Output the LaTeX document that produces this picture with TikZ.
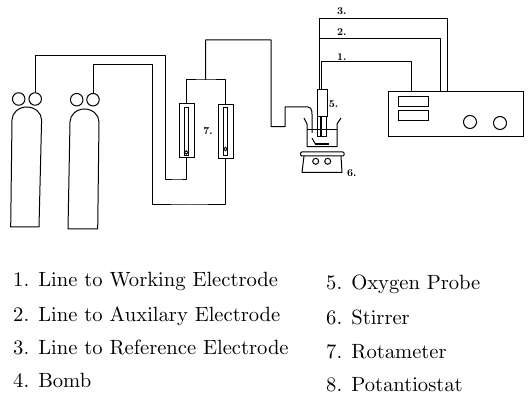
\documentclass[tikz,border=0pt]{standalone}
\usetikzlibrary{positioning}
\font\legendfont=cmr10 at 20.6pt
\font\tagfont=cmbx10 at 10.5pt
\tikzset{
    pipe/.style={line width=1pt,line join=round},
    valve/.style={circle,draw,line width=1pt,minimum size=12.5pt,inner sep=0pt},
    rotabox/.style={rectangle,draw,line width=1pt,minimum width=15pt,minimum height=54pt,inner sep=0pt},
    rotatube/.style={rectangle,draw,line width=0.8pt,minimum width=4.5pt,minimum height=48pt,inner sep=0pt},
    bead/.style={circle,draw,line width=0.8pt,minimum size=3.5pt,inner sep=0pt},
    dial/.style={rectangle,draw,line width=1pt,minimum width=30pt,minimum height=10pt,inner sep=0pt},
    knob/.style={circle,draw,line width=1pt,minimum size=13pt,inner sep=0pt},
    tag/.style={font=\tagfont,inner sep=0pt},
    entry/.style={anchor=base west,font=\legendfont,inner sep=0pt},
}
\begin{document}
\begin{tikzpicture}[x=1pt,y=-1pt]
    \useasboundingbox (0,0) rectangle (530,395);
    % bombs
    \draw[pipe] (10.7,227) -- (12,120) arc[start angle=180,end angle=360,x radius=14.8,y radius=13] -- (39,227) -- cycle;
    \draw[pipe] (68,229) -- (70,122) arc[start angle=180,end angle=360,x radius=14.5,y radius=13] -- (97.7,229) -- cycle;
    \node[valve] (v1) at (18.7,99) {};
    \node[valve] (v2) at (35.2,99) {};
    \node[valve] (v3) at (76.7,99.7) {};
    \node[valve] (v4) at (93,99.7) {};
    % rotameters
    \node[rotabox] (r1) at (186.5,131) {};
    \node[rotabox] (r2) at (225.5,131.5) {};
    \node[rotatube] (t1) at (186.3,131) {};
    \node[rotatube] (t2) at (225.5,131.5) {};
    \node[bead] (b1) at (186.3,152.5) {};
    \node[bead] (b2) at (225.5,149) {};
    \node[tag] (l7) at (208,131) {7.};
    \coordinate (top) at (205.7,80);
    \draw[pipe] (v2.north) |- (165,56) |- (178,180) -| (r1.south);
    \draw[pipe] (v4.north) |- (152.7,65) |- (190,205) -| (r2.south);
    \draw[pipe] (r1.north) |- (top) -| (r2.north);
    \draw[pipe] (top) |- (271,40) |- (285,126.7) |- (308,107) to[out=0,in=90] (312,118) -- (312,133);
    % beaker and probe
    \draw[pipe] (304,118) -- (307,124) -- (307,146.7) -- (337,146.7) -- (337,124) -- (341,118);
    \draw[line width=0.6pt] (307,129.5) -- (337,129.5);
    \node[rectangle,draw,line width=1pt,minimum width=10pt,minimum height=27pt,inner sep=0pt] (probe) at (322,103.5) {};
    \draw[line width=1pt] (317.5,117) -- (317.5,137) -- (326.5,137) -- (326.5,117);
    \draw[line width=1.4pt] (321,117) -- (321,137);
    \draw[line width=1pt] (312,138) -- (315,143.5);
    \draw[line width=1.8pt] (315,144) -- (329,144);
    \node[tag] (l5) at (333.5,104.5) {5.};
    % stirrer
    \draw[pipe,rounded corners=1pt] (300.7,152) rectangle (344,156);
    \draw[pipe] (304,156) -- (302,172.5) -- (342,172.5) -- (341,156);
    \node[circle,draw,line width=1pt,minimum size=6pt,inner sep=0pt] (s1) at (315.7,161.3) {};
    \node[circle,draw,line width=1pt,minimum size=6pt,inner sep=0pt] (s2) at (327.7,161.3) {};
    \node[tag] (l6) at (351.7,173) {6.};
    % potentiostat
    \node[rectangle,draw,line width=1pt,minimum width=135pt,minimum height=45pt,inner sep=0pt] (pot) at (455.5,114.5) {};
    \node[dial] (d1) at (413,102) {};
    \node[dial] (d2) at (413,116) {};
    \node[knob] (k1) at (470,122) {};
    \node[knob] (k2) at (500,123) {};
    \coordinate (p1) at (321.7,90);
    \coordinate (p2) at (319.3,90);
    \draw[pipe] (p1) |- (411.7,62) -- (411.7,92);
    \draw[pipe] (p2) |- (440,39) -- (440,92);
    \draw[pipe] (p2) |- (447.7,19) -- (447.7,92);
    \node[tag] (l1) at (341.7,57) {1.};
    \node[tag] (l2) at (341.7,32) {2.};
    \node[tag] (l3) at (341.7,11) {3.};
    % legend
    \node[entry] (e1) at (13,287) {1. Line to Working Electrode};
    \node[entry] (e2) at (13,321) {2. Line to Auxilary Electrode};
    \node[entry] (e3) at (13,354) {3. Line to Reference Electrode};
    \node[entry] (e4) at (13,387.5) {4. Bomb};
    \node[entry] (e5) at (326,290) {5. Oxygen Probe};
    \node[entry] (e6) at (326,324) {6. Stirrer};
    \node[entry] (e7) at (326,358) {7. Rotameter};
    \node[entry] (e8) at (326,391.5) {8. Potantiostat};
\end{tikzpicture}
\end{document}
